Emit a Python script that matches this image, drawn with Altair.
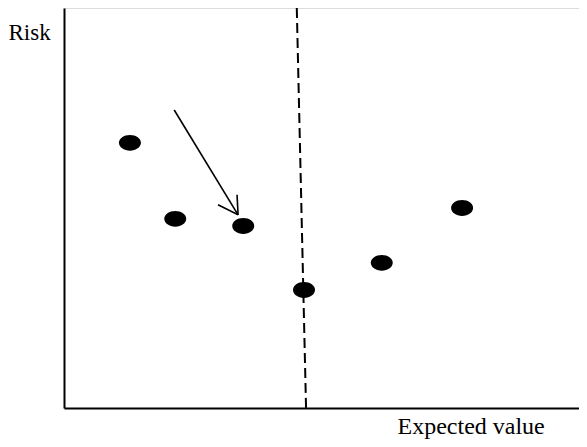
import altair as alt
import pandas as pd

# Points (expected value, risk) in arbitrary units
ev = [1.28, 2.16, 3.48, 4.66, 6.17, 7.73]
risk = [6.63, 4.73, 4.55, 2.95, 3.63, 5.00]

# Dashed vertical reference line (start/end)
dash_x = [4.52]
dash_y = [10.0]
dash_x2 = [4.70]
dash_y2 = [0.0]

# Arrow shaft and arrowhead arms
arrow_x = [2.14, 2.99, 3.36]
arrow_y = [7.45, 5.08, 5.33]
arrow_x2 = [3.38, 3.38, 3.38]
arrow_y2 = [4.83, 4.83, 4.83]

pts = pd.DataFrame({"ev": ev, "risk": risk})
dash = pd.DataFrame({"x": dash_x, "y": dash_y, "x2": dash_x2, "y2": dash_y2})
arrow = pd.DataFrame({"x": arrow_x, "y": arrow_y, "x2": arrow_x2, "y2": arrow_y2})

xs = alt.Scale(domain=[0, 10], nice=False, zero=False)
ys = alt.Scale(domain=[0, 10], nice=False, zero=False)

xaxis = alt.Axis(title="Expected value", ticks=False, labels=False, grid=False,
                 domainColor="black", domainWidth=2,
                 titleFont="Liberation Serif", titleFontSize=24, titleFontWeight="normal",
                 titleColor="black", titleAlign="left", titleBaseline="alphabetic",
                 titleAnchor="start", titleX=333, titleY=25)
yaxis = alt.Axis(title="Risk", ticks=False, labels=False, grid=False,
                 domainColor="black", domainWidth=2,
                 titleFont="Liberation Serif", titleFontSize=23, titleFontWeight="normal",
                 titleColor="black", titleAngle=0, titleAlign="left", titleBaseline="alphabetic",
                 titleAnchor="start", titleX=-56, titleY=31)

ellipse = "M -1 0 A 1 0.72 0 1 0 1 0 A 1 0.72 0 1 0 -1 0 Z"

points = alt.Chart(pts).mark_point(shape=ellipse, filled=True, color="black",
                                   opacity=1, size=484).encode(
    x=alt.X("ev:Q", scale=xs, axis=xaxis),
    y=alt.Y("risk:Q", scale=ys, axis=yaxis),
)

dashed = alt.Chart(dash).mark_rule(color="black", strokeWidth=2, strokeDash=[10, 5]).encode(
    x=alt.X("x:Q", scale=xs), y=alt.Y("y:Q", scale=ys),
    x2="x2:Q", y2="y2:Q",
)

arrows = alt.Chart(arrow).mark_rule(color="black", strokeWidth=1.6).encode(
    x=alt.X("x:Q", scale=xs), y=alt.Y("y:Q", scale=ys),
    x2="x2:Q", y2="y2:Q",
)

chart = alt.layer(dashed, arrows, points).properties(
    width=515, height=400,
    autosize=alt.AutoSizeParams(type="none"),
    padding={"left": 56, "top": 0, "right": 0, "bottom": 31},
).configure_view(stroke=None).configure(background="white")

chart.save("out.html", embed_options={"renderer": "svg", "actions": False})
